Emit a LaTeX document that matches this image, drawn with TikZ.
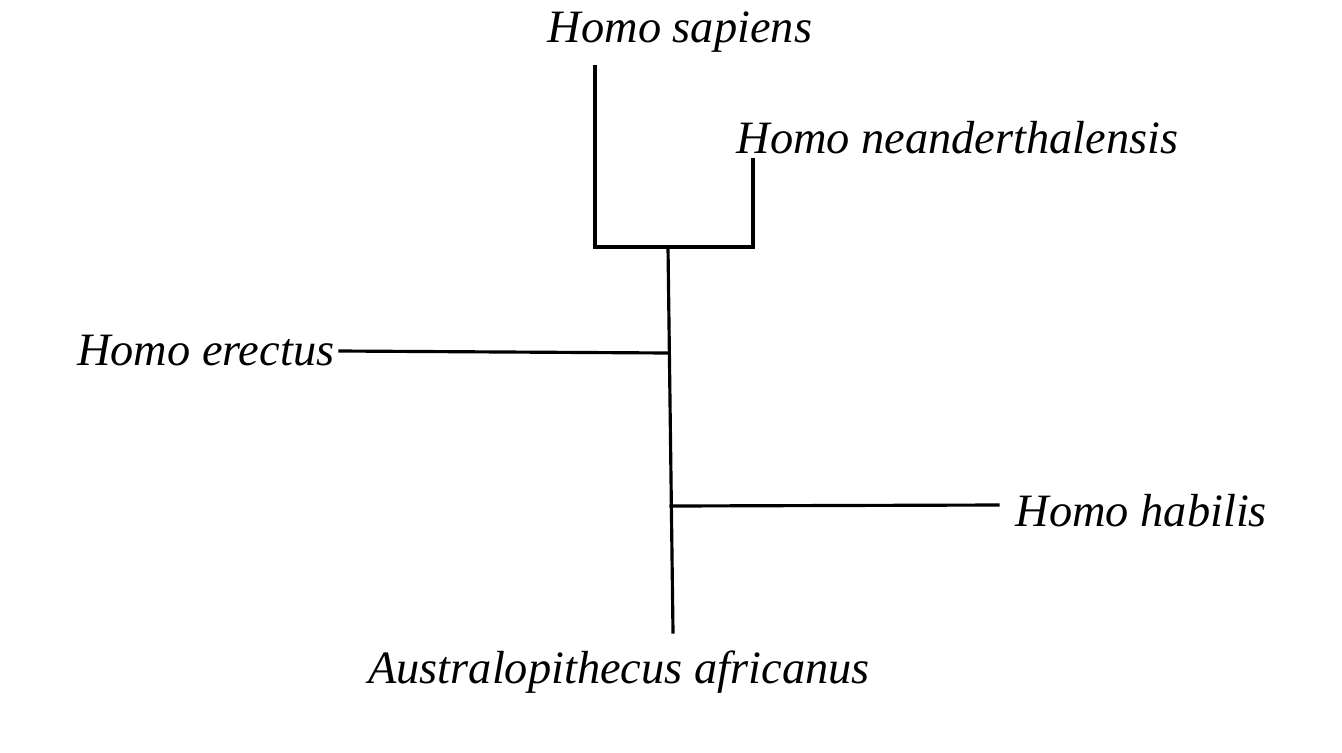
\documentclass[tikz,border=0pt]{standalone}
\usepackage{fontspec}
\setmainfont{Liberation Serif}
\usepackage{tikz}

\tikzset{
  taxon/.style={font=\fontsize{13.2}{15}\selectfont\itshape, inner sep=0pt},
  branch/.style={line width=0.9pt, line cap=rect}
}

\begin{document}
\begin{tikzpicture}
      \useasboundingbox (0,0) rectangle (13.42,7.52);
      % tips
      \node[taxon] (sapiens) at (6.80,7.20) {Homo sapiens};
      \node[taxon] (neander) at (9.575,6.14) {Homo neanderthalensis};
      \node[taxon, anchor=east] (erectus) at (3.35,4.01) {Homo erectus};
      \node[taxon, anchor=west] (habilis) at (10.15,2.41) {Homo habilis};
      \node[taxon] (africanus) at (6.19,0.80) {Australopithecus africanus};
      % branch points
      \coordinate (sapTop) at (5.95,6.85);
      \coordinate (sapBot) at (5.95,5.05);
      \coordinate (neaTop) at (7.53,5.92);
      \coordinate (neaBot) at (7.53,5.05);
      \coordinate (crown) at (6.68,5.05);
      \coordinate (ereJoin) at (6.685,3.99);
      \coordinate (ereEnd) at (3.40,4.01);
      \coordinate (habJoin) at (6.71,2.46);
      \coordinate (habEnd) at (9.98,2.47);
      \coordinate (root) at (6.73,1.20);
      \draw[branch] (sapTop) -- (sapBot) -- (neaBot) -- (neaTop);
      \draw[branch] (crown) -- (root);
      \draw[branch] (ereEnd) -- (ereJoin);
      \draw[branch] (habJoin) -- (habEnd);
    \end{tikzpicture}
\end{document}
